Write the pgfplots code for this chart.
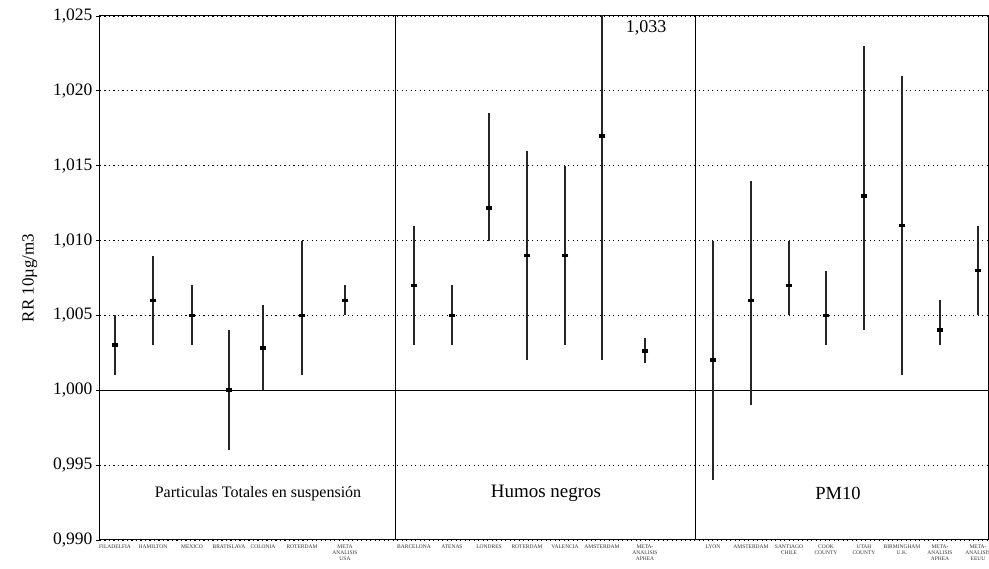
\documentclass[border=0pt]{standalone}
\usepackage{pgfplots}
\pgfplotsset{compat=1.18}
\usepackage{fontspec}
\setmainfont{Liberation Serif}
\begin{document}
\begin{tikzpicture}[x=1pt,y=1pt]
\useasboundingbox (-100pt,-29pt) rectangle (889pt,540pt);
\begin{axis}[
  scale only axis, width=888pt, height=524pt,
  xmin=100, xmax=988, ymin=0.990, ymax=1.025,
  axis line style={line width=1pt},
  ytick={0.990,0.995,1.000,1.005,1.010,1.015,1.020,1.025},
  yticklabel style={font=\fontsize{17.5}{17.5}\selectfont,/pgf/number format/.cd,use comma,fixed,fixed zerofill,precision=3,1000 sep={},assume math mode=true},
  ymajorgrids, grid style={dash pattern=on 1.2pt off 3.3pt, line width=0.9pt, black},
  ytick pos=left, ytick align=outside, major tick length=4pt,
  ytick style={line width=0.8pt, black},
  xtick style={draw=none},
  xtick={115,153,192,229,263,302,345,414,452,489,527,565,602,645,713,751,789,826,864,902,940,978},
  xticklabels={FILADELFIA,HAMILTON,MEXICO,BRATISLAVA,COLONIA,ROTERDAM,{META\\ANALISIS\\USA},
    BARCELONA,ATENAS,LONDRES,ROTERDAM,VALENCIA,AMSTERDAM,{META-\\ANALISIS\\APHEA},
    LYON,AMSTERDAM,{SANTIAGO\\CHILE},{COOK\\COUNTY},{UTAH\\COUNTY},{BIRMINGHAM\\U.K.},{META-\\ANALISIS\\APHEA},{META-\\ANALISIS\\EEUU}},
  xticklabel style={font=\fontsize{5.5}{6.3}\selectfont, align=center, anchor=north, yshift=-1pt, text=black!80},
  ylabel={RR 10µg/m3},
  ylabel style={at={(axis description cs:-0.079,0.5)}, anchor=center, font=\fontsize{17}{17}\selectfont},
  clip=true,
]
% reference line and separators
\addplot[black, line width=1.1pt] coordinates {(100,1.000) (988,1.000)};
\addplot[black, line width=1pt] coordinates {(395,0.990) (395,1.025)};
\addplot[black, line width=1pt] coordinates {(695,0.990) (695,1.025)};
% estimates with confidence intervals
\addplot[black, only marks, mark=-, mark size=3.3pt, mark options={line width=3.8pt},
  error bars/.cd, y dir=both, y explicit, error mark=none,
  error bar style={line width=1.4pt, black!85}]
 coordinates {
  (115,1.0030) += (0,0.0020) -= (0,0.0020)
  (153,1.0060) += (0,0.0030) -= (0,0.0030)
  (192,1.0050) += (0,0.0020) -= (0,0.0020)
  (229,1.0000) += (0,0.0040) -= (0,0.0040)
  (263,1.0028) += (0,0.0029) -= (0,0.0028)
  (302,1.0050) += (0,0.0050) -= (0,0.0040)
  (345,1.0060) += (0,0.0010) -= (0,0.0010)
  (414,1.0070) += (0,0.0040) -= (0,0.0040)
  (452,1.0050) += (0,0.0020) -= (0,0.0020)
  (489,1.0122) += (0,0.0063) -= (0,0.0022)
  (527,1.0090) += (0,0.0070) -= (0,0.0070)
  (565,1.0090) += (0,0.0060) -= (0,0.0060)
  (602,1.0170) += (0,0.0160) -= (0,0.0150)
  (645,1.0026) += (0,0.0009) -= (0,0.0008)
  (713,1.0020) += (0,0.0080) -= (0,0.0080)
  (751,1.0060) += (0,0.0080) -= (0,0.0070)
  (789,1.0070) += (0,0.0030) -= (0,0.0020)
  (826,1.0050) += (0,0.0030) -= (0,0.0020)
  (864,1.0130) += (0,0.0100) -= (0,0.0090)
  (902,1.0110) += (0,0.0100) -= (0,0.0100)
  (940,1.0040) += (0,0.0020) -= (0,0.0010)
  (978,1.0080) += (0,0.0030) -= (0,0.0030)
 };
\node[font=\fontsize{18}{18}\selectfont] at (axis cs:646,1.0242) {1,033};
\node[font=\fontsize{16}{16}\selectfont] at (axis cs:258,0.9931) {Particulas Totales en suspensión};
\node[font=\fontsize{19}{19}\selectfont] at (axis cs:546,0.9931) {Humos negros};
\node[font=\fontsize{18.5}{18.5}\selectfont] at (axis cs:838,0.9931) {PM10};
\end{axis}
\end{tikzpicture}
\end{document}
